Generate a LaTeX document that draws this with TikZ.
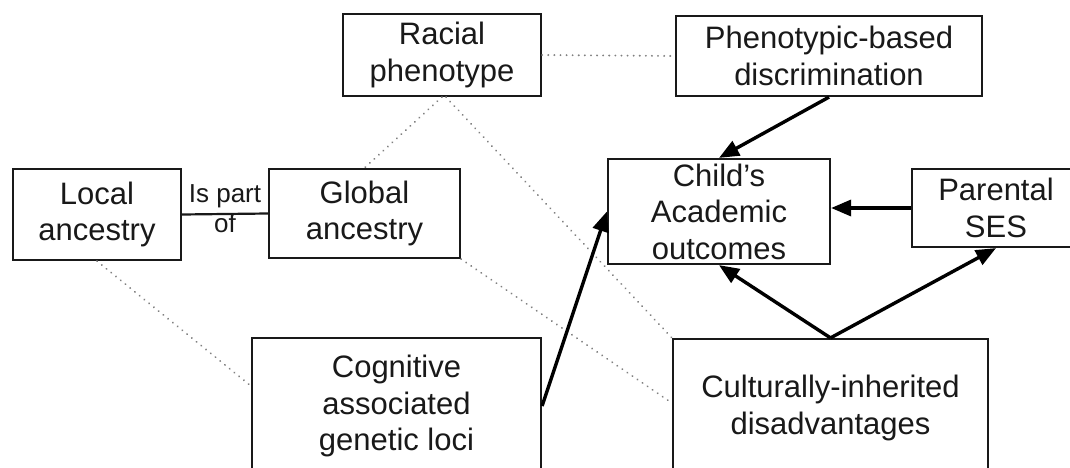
\documentclass[tikz,border=0pt]{standalone}
\usepackage{fontspec}
\setmainfont{Liberation Sans}
\usetikzlibrary{arrows.meta,calc}
\begin{document}
\begin{tikzpicture}[x=1pt,y=-1pt,
  box/.style={draw=black!90, line width=2.2pt, inner sep=0pt, align=center,
    text=black!90, font=\fontsize{31}{36.5}\selectfont},
  arr/.style={draw=black, line width=3.4pt, -{Triangle[length=20pt,width=16pt]}},
  dotline/.style={draw=black!50, line width=2pt, line cap=round, dash pattern=on 0.1pt off 6pt},
  lbl/.style={font=\fontsize{26}{30}\selectfont, align=center, inner sep=0pt, text=black!90}]
\useasboundingbox (0,0) rectangle (1070,468);
\clip (0,0) rectangle (1070,468);
\fill[white] (0,0) rectangle (1070,468);

\node[box, minimum width=198pt, minimum height=82pt] (racial) at (442,55) {Racial\\phenotype};
\node[box, minimum width=306pt, minimum height=80pt] (phen) at (829,56) {Phenotypic-based\\discrimination};
\node[box, minimum width=168pt, minimum height=91pt] (local) at (97,214.5) {Local\\ancestry};
\node[box, minimum width=191pt, minimum height=89pt] (global) at (364.5,213.5) {Global\\ancestry};
\node[box, minimum width=222pt, minimum height=105pt] (child) at (719,211.5) {Child’s\\Academic\\outcomes};
\node[box, minimum width=168pt, minimum height=78pt] (parental) at (996,208) {Parental\\SES};
\node[box, minimum width=289pt, minimum height=136pt] (cog) at (396.5,406) {Cognitive\\associated\\genetic loci};
\node[box, minimum width=315pt, minimum height=138pt] (cult) at (830.5,408) {Culturally-inherited\\disadvantages};

% dotted associations
\draw[dotline] (racial.east) -- (phen.west);
\draw[dotline] (racial.south) -- (global.north);
\draw[dotline] ($(racial.south)+(4,0)$) -- (cult.north west);
\draw[dotline] (local.south) -- ($(cog.north west)+(0,49)$);
\draw[dotline] (global.south east) -- ($(cult.west)+(0,-5)$);

% is part of
\draw[line width=2.2pt, draw=black!90] (local.east) -- node[lbl, yshift=5pt] {Is part\\of} (global.west);

% causal arrows
\draw[arr] (phen.south) -- (child.north);
\draw[arr] (parental.west) -- (parental.west -| child.east);
\draw[arr] (cog.east) -- (child.west);
\draw[arr] (cult.north) -- (child.south);
\draw[arr] (cult.north) -- (parental.south);
\end{tikzpicture}
\end{document}
